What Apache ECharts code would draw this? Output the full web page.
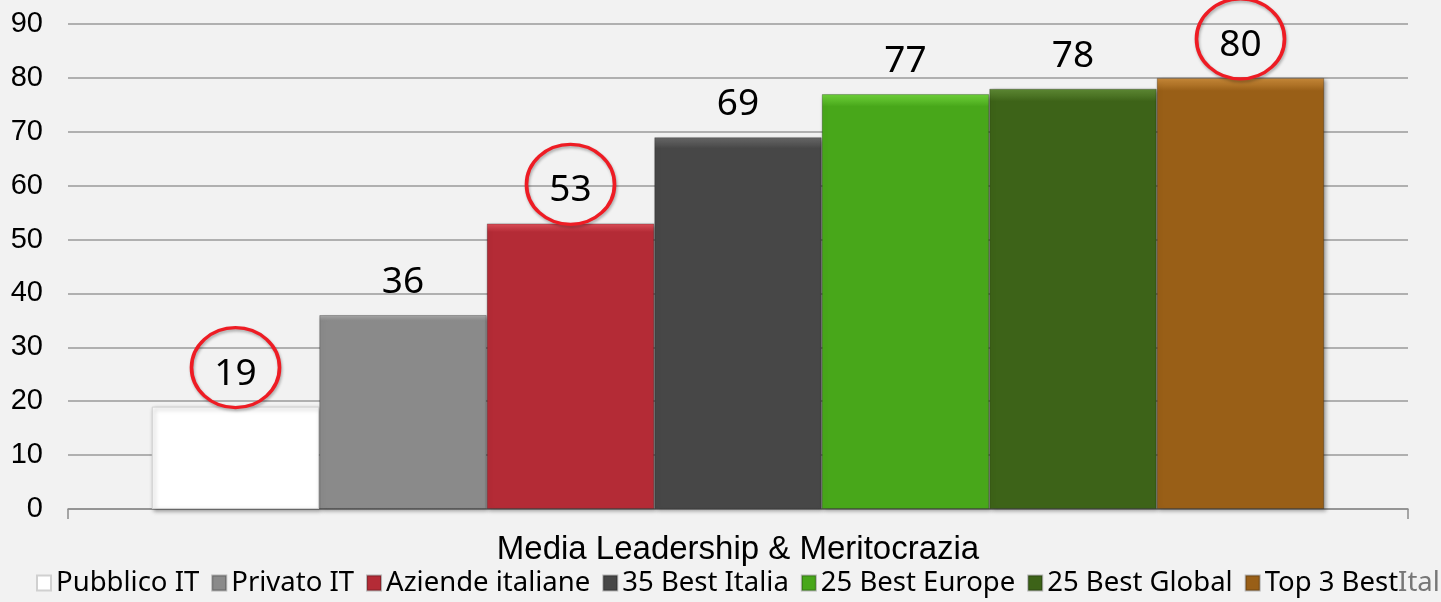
<!DOCTYPE html>
<html>
<head>
<meta charset="utf-8">
<script src="https://cdn.jsdelivr.net/npm/echarts@6/dist/echarts.min.js"></script>
<style>
  html, body { margin: 0; padding: 0; background: #f2f2f2; }
  #main { width: 1441px; height: 602px; }
</style>
</head>
<body>
<div id="main"></div>
<script>
// dati
const categorie = ['Media Leadership & Meritocrazia'];
const serieNomi = ['Pubblico IT', 'Privato IT', 'Aziende italiane', '35 Best Italia',
                   '25 Best Europe', '25 Best Global', 'Top 3 Best Italia'];
const valori = [19, 36, 53, 69, 77, 78, 80];
const cerchiati = [true, false, true, false, false, false, true]; // valori evidenziati in rosso
const colori = ['#ffffff', '#8a8a8a', '#b42b36', '#474747', '#48a71a', '#3d6318', '#995f17'];
const chiari = ['#ffffff', '#a8a8a8', '#e0505a', '#6a6a6a', '#6fd23a', '#5f8a35', '#c98a3a'];
const yTicks = { min: 0, max: 90, interval: 10 };

// gradiente verticale con bordo superiore più chiaro (effetto smussato)
function smussato(i) {
  return new echarts.graphic.LinearGradient(0, 0, 0, 1, [
    { offset: 0, color: chiari[i] },
    { offset: 0.03, color: colori[i] },
    { offset: 1, color: colori[i] }
  ]);
}

const series = serieNomi.map((nome, i) => ({
  name: nome,
  type: 'bar',
  barGap: '0%',
  barCategoryGap: '12.5%',
  data: [valori[i]],
  itemStyle: {
    color: smussato(i),
    borderColor: i === 0 ? '#d0d0d0' : 'rgba(0,0,0,0.25)',
    borderWidth: 1,
    shadowColor: 'rgba(0,0,0,0.35)',
    shadowBlur: 4,
    shadowOffsetX: 2,
    shadowOffsetY: 2
  },
  label: {
    show: true,
    position: 'top',
    distance: 14,
    color: '#000',
    fontFamily: 'Noto Sans',
    fontSize: 37
  },
  markPoint: cerchiati[i] ? {
    symbol: 'circle',
    symbolSize: [88, 80],
    symbolOffset: [0, -39],
    silent: true,
    label: { show: false },
    itemStyle: {
      color: 'rgba(0,0,0,0)',
      borderColor: '#ee1c24',
      borderWidth: 3.5,
      shadowColor: 'rgba(0,0,0,0.3)',
      shadowBlur: 3,
      shadowOffsetX: 1,
      shadowOffsetY: 2
    },
    data: [{ coord: [0, valori[i]] }]
  } : undefined
}));

const chart = echarts.init(document.getElementById('main'));
chart.setOption({
  backgroundColor: '#f2f2f2',
  animation: false,
  grid: { left: 68, right: 33, top: 24, bottom: 93 },
  legend: {
    data: serieNomi,
    left: 31,
    bottom: 0,
    width: 1800,
    itemWidth: 14,
    itemHeight: 15,
    itemGap: 12,
    icon: 'rect',
    textStyle: {
      color: '#000',
      fontFamily: 'Noto Sans',
      fontSize: 27.5,
      rich: { g: { color: '#777', fontFamily: 'Noto Sans', fontSize: 27.5 } }
    },
    formatter: nome => nome === 'Top 3 Best Italia' ? 'Top 3 Best{g|Italia}' : nome
  },
  xAxis: {
    type: 'category',
    data: categorie,
    axisLine: { lineStyle: { color: '#8c8c8c', width: 1.5 } },
    axisTick: { show: true, length: 10, lineStyle: { color: '#8c8c8c', width: 1.5 } },
    axisLabel: { color: '#000', fontFamily: 'Liberation Sans', fontSize: 33, margin: 24 }
  },
  yAxis: {
    type: 'value',
    min: yTicks.min,
    max: yTicks.max,
    interval: yTicks.interval,
    axisLine: { show: false },
    axisTick: { show: false },
    axisLabel: { color: '#000', fontFamily: 'Liberation Sans', fontSize: 29, margin: 25 },
    splitLine: { lineStyle: { color: '#9a9a9a', width: 1.5 } }
  },
  series: series
});
</script>
</body>
</html>
